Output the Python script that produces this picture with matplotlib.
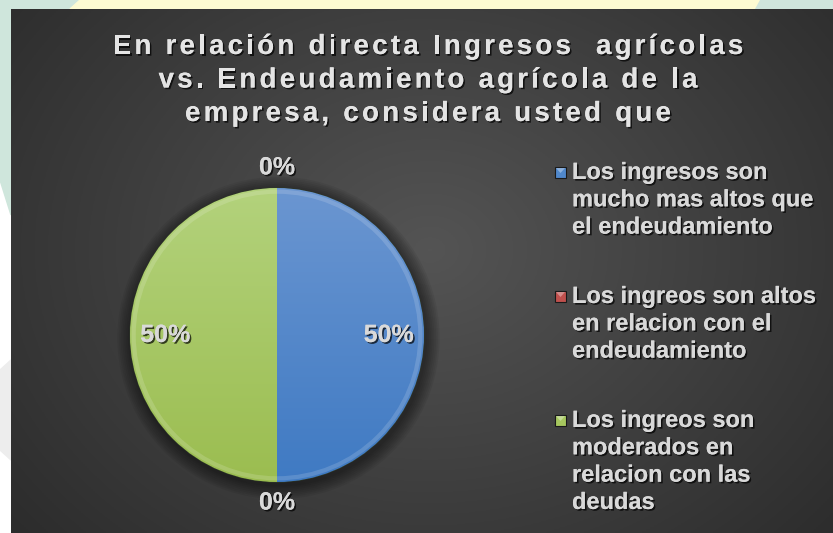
import numpy as np
import matplotlib
matplotlib.use("Agg")
import matplotlib.pyplot as plt
import matplotlib.patheffects as pe
from matplotlib.patches import Rectangle, Polygon, Circle
from matplotlib.colors import LinearSegmentedColormap

# Survey answers (percent of respondents)
categories = [
    "Los ingresos son\nmucho mas altos que\nel endeudamiento",
    "Los ingreos son altos\nen relacion con el\nendeudamiento",
    "Los ingreos son\nmoderados en\nrelacion con las\ndeudas",
    "",
]
values = [50, 0, 50, 0]
colors = ["#5088cb", "#c0504d", "#a6c75e", "#8064a2"]
top_colors = ["#6b96d1", "#d26a67", "#b3d27c", "#9a83bb"]
bottom_colors = ["#3f7ac3", "#a8403d", "#9bbd50", "#6d5290"]

title_lines = [
    "En relación directa Ingresos  agrícolas",
    "vs. Endeudamiento agrícola de la",
    "empresa, considera usted que",
]

W, H = 833, 533
fig = plt.figure(figsize=(W / 100, H / 100), dpi=100)
fig.patch.set_facecolor("white")

# page strips around the chart
deco = fig.add_axes([0, 0, 1, 1])
deco.set_xlim(0, W)
deco.set_ylim(H, 0)
deco.axis("off")
deco.add_patch(Polygon([[0, 0], [80, 0], [70, 9], [0, 9]], color="#cfe6dc"))
deco.add_patch(Polygon([[80, 0], [760, 0], [755, 9], [70, 9]], color="#fdfbd2"))
deco.add_patch(Polygon([[760, 0], [W, 0], [W, 9], [755, 9]], color="#cfe5dc"))
deco.add_patch(Polygon([[0, 0], [11, 0], [11, 215], [0, 180]], color="#cfe6dc"))
deco.add_patch(Polygon([[0, 370], [11, 360], [11, 460], [0, 450]], color="#ededed"))

# dark chart area with radial gradient
x0, y0 = 11, 9
bg = fig.add_axes([x0 / W, 0, 1 - x0 / W, 1 - y0 / H])
bg.axis("off")
gx, gy = np.meshgrid(np.linspace(x0, W, 400), np.linspace(y0, H, 260))
d = np.sqrt(((gx - 430) / 520) ** 2 + ((gy - 250) / 420) ** 2)
shade = np.clip(0.33 - 0.15 * d, 0.16, 0.33)
bg.imshow(np.dstack([shade] * 3), extent=[0, 1, 0, 1], aspect="auto")
bg.set_xlim(0, 1)
bg.set_ylim(0, 1)

# overlay in pixel coordinates for the legend keys
top = fig.add_axes([0, 0, 1, 1])
top.set_xlim(0, W)
top.set_ylim(H, 0)
top.axis("off")
top.patch.set_alpha(0)

# pie axes: centre (277, 335) px, radius 147 px
cx, cy, r = 277, 335, 147
half = 200
ax = fig.add_axes([(cx - half) / W, (H - cy - half) / H, 2 * half / W, 2 * half / H])
ax.set_xlim(-half / r, half / r)
ax.set_ylim(-half / r, half / r)
ax.set_aspect("equal")
ax.axis("off")

# soft shadow under the pie
for k in range(8):
    ax.add_patch(Circle((0.01, -0.02), 1.0 + 0.012 * (8 - k), color="black",
                        alpha=0.06, lw=0, zorder=0))

wedges, _ = ax.pie(values, colors=colors, startangle=90, counterclock=False,
                   radius=1.0, wedgeprops=dict(edgecolor="#2f3a28", linewidth=0.8))

ramp = np.linspace(0, 1, 256).reshape(-1, 1)
for w, v, c1, c2 in zip(wedges, values, top_colors, bottom_colors):
    if v == 0:
        continue
    cmap = LinearSegmentedColormap.from_list("g", [c2, c1])
    im = ax.imshow(ramp, cmap=cmap, extent=[-1, 1, -1, 1], origin="lower",
                   zorder=w.get_zorder() + 0.1)
    im.set_clip_path(w)
    # bevel rim
    rim = Circle((0, 0), 0.975, fill=False, lw=3, ec="white", alpha=0.15,
                 zorder=w.get_zorder() + 0.2)
    ax.add_patch(rim)
    rim.set_clip_path(w)

ax.set_xlim(-half / r, half / r)
ax.set_ylim(-half / r, half / r)

shadow = [pe.withSimplePatchShadow(offset=(1.2, -1.2), shadow_rgbFace="black", alpha=0.7),
          pe.Normal()]
label_font = dict(family="Liberation Sans", weight="bold", size=18, color="#d9d9d9")
for w, v in zip(wedges, values):
    mid = np.deg2rad((w.theta1 + w.theta2) / 2)
    dist = 1.14 if v == 0 else 0.76
    ax.text(dist * np.cos(mid), dist * np.sin(mid), f"{v:.0f}%", ha="center",
            va="center", path_effects=shadow, zorder=10, **label_font)

# title with letter spacing
renderer = fig.canvas.get_renderer()
title_font = dict(family="Liberation Sans", weight="bold", size=20, color="#e4e4e4")
tracking = 3.2


def text_width(s):
    t = fig.text(0, 0, s, **title_font)
    wd = t.get_window_extent(renderer).width
    t.remove()
    return wd


bar_w = text_width("|")
for i, line in enumerate(title_lines):
    offs = [text_width(line[:j] + "|") - bar_w if j else 0 for j in range(len(line))]
    offs = [o + j * tracking for j, o in enumerate(offs)]
    total = text_width(line) + (len(line) - 1) * tracking
    xs = 428 - total / 2
    ypix = 47 + i * 33.5
    for ch, o in zip(line, offs):
        if ch == " ":
            continue
        fig.text((xs + o) / W, 1 - ypix / H, ch, ha="left", va="center",
                 path_effects=shadow, **title_font)

# legend
leg_font = dict(family="Liberation Sans", weight="bold", size=17, color="#d9d9d9",
                linespacing=1.24)
leg_tops = [161, 285, 409]
for lab, col, ty in zip(categories, colors, leg_tops):
    if not lab:
        continue
    top.add_patch(Rectangle((555, ty + 6), 11, 11, facecolor=col, edgecolor="#1a1a1a",
                            lw=0.8, zorder=5))
    top.add_patch(Polygon([[556, ty + 7], [565, ty + 7], [560.5, ty + 12]],
                          facecolor="white", alpha=0.35, lw=0, zorder=6))
    fig.text(572 / W, 1 - ty / H, lab, ha="left", va="top", path_effects=shadow,
             **leg_font)

fig.savefig("out.png", dpi=100)
